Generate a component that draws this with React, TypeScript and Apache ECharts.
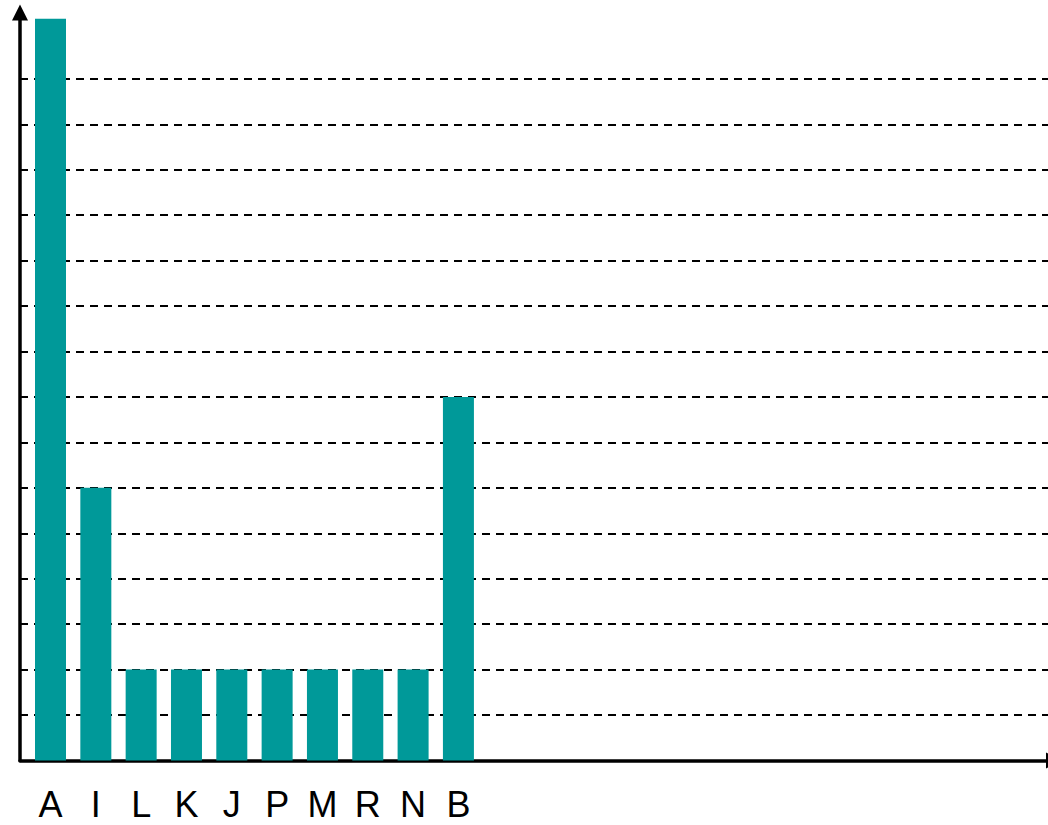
import React, { useEffect, useRef } from "react";
import * as echarts from "echarts";

const categories = ["A", "I", "L", "K", "J", "P", "M", "R", "N", "B"];
const values = [16.32, 6, 2, 2, 2, 2, 2, 2, 2, 8];
const gridValues = [1, 2, 3, 4, 5, 6, 7, 8, 9, 10, 11, 12, 13, 14, 15];
const labelPositions = [0, 1, 2, 3, 4, 5, 6, 7, 8, 9];

export default function App() {
  const ref = useRef<HTMLDivElement>(null);
  useEffect(() => {
    if (!ref.current) return;
    const chart = echarts.init(ref.current, null, { renderer: "svg" });
    chart.setOption({
      animation: false,
      grid: { left: 20, top: 12.5, right: 16, bottom: 64.5, containLabel: false },
      xAxis: {
        type: "value",
        min: -0.673,
        max: 22.14,
        axisLine: {
          show: true,
          onZero: false,
          symbol: ["none", "triangle"],
          symbolSize: [16, 16],
          lineStyle: { color: "#000", width: 3.5 },
        },
        axisTick: { show: false },
        splitLine: { show: false },
        axisLabel: {
          show: true,
          customValues: labelPositions,
          formatter: (v: number) => categories[Math.round(v)] ?? "",
          fontSize: 36,
          fontFamily: "Liberation Sans, Arial, sans-serif",
          color: "#000",
          margin: 26,
        },
      },
      yAxis: {
        type: "value",
        min: 0,
        max: 16.46,
        axisLine: {
          show: true,
          onZero: false,
          symbol: ["none", "triangle"],
          symbolSize: [16, 16],
          lineStyle: { color: "#000", width: 3.5 },
        },
        axisTick: { show: false },
        axisLabel: { show: false },
        splitLine: { show: false },
      },
      series: [
        {
          type: "bar",
          data: categories.map((c, i) => [i, values[i]]),
          barWidth: 31,
          itemStyle: { color: "#009999" },
          z: 3,
          markLine: {
            silent: true,
            symbol: ["none", "none"],
            label: { show: false },
            lineStyle: { color: "#000", width: 2, type: [8, 6] },
            data: gridValues.map((v) => ({ yAxis: v })),
            z: 1,
          },
        },
      ],
    });
    return () => chart.dispose();
  }, []);
  return (
    <div style={{ position: "fixed", left: 0, top: 0, width: 1048, height: 825, overflow: "hidden", background: "#fff" }}>
      <div ref={ref} style={{ width: 1070, height: 825 }} />
    </div>
  );
}
